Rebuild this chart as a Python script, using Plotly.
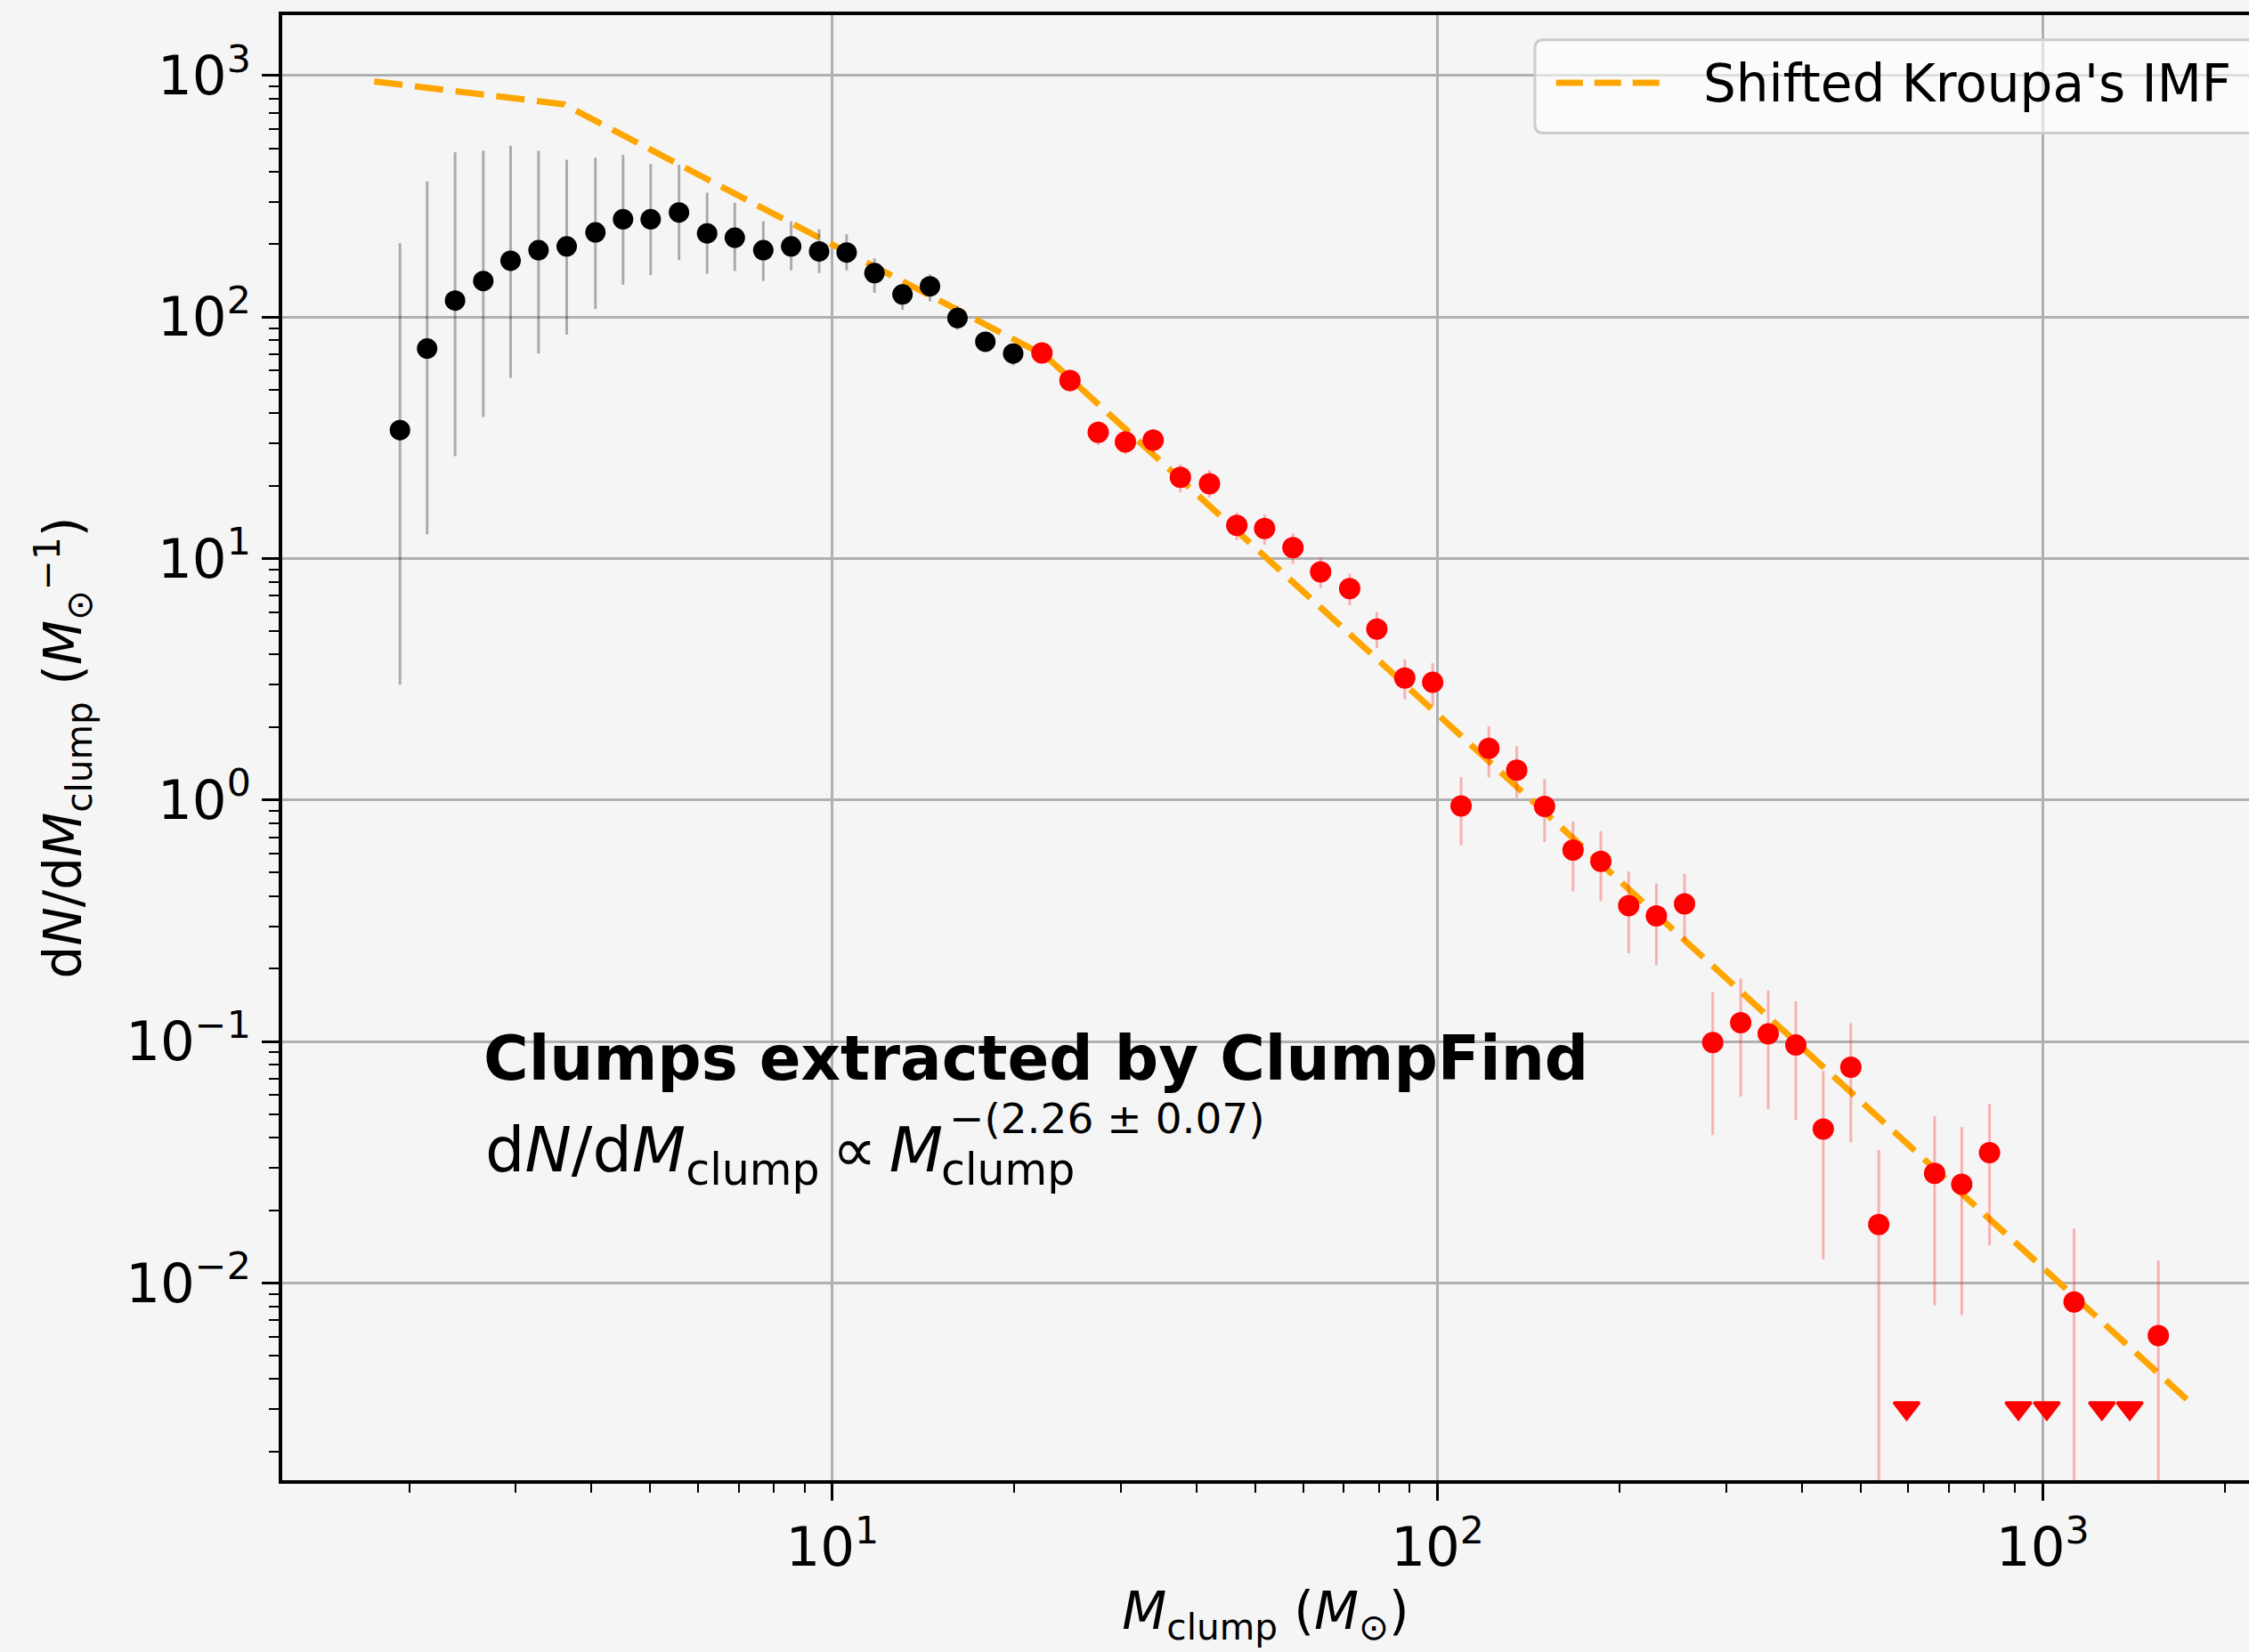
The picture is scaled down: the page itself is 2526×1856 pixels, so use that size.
import plotly.graph_objects as go

# ---------------- data ----------------
BLACK_M = [1.93, 2.14, 2.38, 2.65, 2.94, 3.27, 3.64, 4.06, 4.51, 5.01, 5.58, 6.21,
           6.90, 7.69, 8.55, 9.51, 10.56, 11.74, 13.06, 14.5, 16.1, 17.9, 19.9]
BLACK_DNDM = [34, 74, 117, 141, 171, 189, 196, 224, 254, 254, 271, 222,
              213, 189, 196, 187, 185, 152, 124, 134, 99, 79, 70.6]
BLACK_LO = [3.0, 12.6, 26.5, 38.5, 56, 70.6, 84.6, 108, 136, 149, 172, 151,
            155, 141, 156, 152, 156, 126, 107, 116, 88.5, 72, 63]
BLACK_HI = [202, 364, 481, 488, 512, 488, 448, 457, 469, 430, 427, 327,
            297, 249, 249, 231, 220, 175, 137, 150, 111, 86, 77]

RED_M = [22.2, 24.7, 27.5, 30.5, 33.9, 37.6, 42.0, 46.6, 51.8, 57.7, 64.1, 71.6,
         79.4, 88.3, 98.2, 109.4, 121.6, 135.2, 150.3, 167.5, 186.2, 207, 230, 256,
         285, 317, 352, 391, 434, 482, 536, 663, 735, 817, 1127, 1553]
RED_DNDM = [71, 54.6, 33.3, 30.4, 30.9, 21.7, 20.4, 13.7, 13.3, 11.1, 8.8, 7.5,
            5.1, 3.2, 3.07, 0.945, 1.635, 1.33, 0.94, 0.62, 0.557, 0.365, 0.331, 0.371,
            0.099, 0.1196, 0.1076, 0.0966, 0.0434, 0.0782, 0.01746, 0.0284, 0.0256, 0.0346,
            0.00834, 0.00605]
RED_LO = [64, 49, 29.5, 27, 27.4, 18.8, 17.9, 11.9, 11.4, 9.5, 7.55, 6.4,
          4.25, 2.61, 2.46, 0.65, 1.24, 1.02, 0.67, 0.418, 0.382, 0.232, 0.207, 0.261,
          0.041, 0.059, 0.0525, 0.0473, 0.0125, 0.0382, 0, 0.00807, 0.00736, 0.0143,
          0, 0]
RED_HI = [78, 60.3, 37, 33.8, 34.4, 24.5, 23.2, 15.5, 15.2, 12.7, 10.1, 8.65,
          6.0, 3.82, 3.69, 1.245, 2.02, 1.67, 1.22, 0.815, 0.743, 0.506, 0.451, 0.494,
          0.16, 0.182, 0.1626, 0.1466, 0.0755, 0.119, 0.0355, 0.049, 0.0442, 0.055,
          0.0168, 0.0124]

LIMIT_M = [596, 912, 1016, 1253, 1393]
LIMIT_DNDM = [0.00303, 0.00303, 0.00303, 0.00303, 0.00303]

KROUPA_M = [1.75, 3.6, 22.5, 1730]
KROUPA_DNDM = [945, 760, 69, 0.0033]

X_TICKS = [10, 100, 1000]
X_TICKTEXT = ["10<sup>1</sup>", "10<sup>2</sup>", "10<sup>3</sup>"]
Y_TICKS = [0.01, 0.1, 1, 10, 100, 1000]
Y_TICKTEXT = ["10<sup>\u22122</sup>", "10<sup>\u22121</sup>", "10<sup>0</sup>",
              "10<sup>1</sup>", "10<sup>2</sup>", "10<sup>3</sup>"]
X_MINOR = [m * 10 ** e for e in range(0, 4) for m in range(2, 10)]
Y_MINOR = [m * 10.0 ** e for e in range(-3, 4) for m in range(2, 10)]

FONT = "DejaVu Sans"
BG = "#f5f5f5"


def err_plus(y, hi):
    return [h - v for v, h in zip(y, hi)]


def err_minus(y, lo):
    return [v - l for v, l in zip(y, lo)]


fig = go.Figure()

fig.add_trace(go.Scatter(
    x=KROUPA_M, y=KROUPA_DNDM, mode="lines", name="Shifted Kroupa's IMF",
    line=dict(color="#FFA500", width=7, dash="32px,14px"), showlegend=False,
))

fig.add_trace(go.Scatter(
    x=BLACK_M, y=BLACK_DNDM, mode="markers", name="all clumps",
    marker=dict(color="black", size=23),
    error_y=dict(type="data", symmetric=False,
                 array=err_plus(BLACK_DNDM, BLACK_HI),
                 arrayminus=err_minus(BLACK_DNDM, BLACK_LO),
                 color="rgba(0,0,0,0.3)", thickness=3, width=0),
    showlegend=False,
))

fig.add_trace(go.Scatter(
    x=RED_M, y=RED_DNDM, mode="markers", name="fitted clumps",
    marker=dict(color="#ff0000", size=24),
    error_y=dict(type="data", symmetric=False,
                 array=err_plus(RED_DNDM, RED_HI),
                 arrayminus=err_minus(RED_DNDM, RED_LO),
                 color="rgba(255,0,0,0.28)", thickness=3, width=0),
    showlegend=False,
))

fig.add_trace(go.Scatter(
    x=LIMIT_M, y=LIMIT_DNDM, mode="markers", name="upper limits",
    marker=dict(color="#ff0000", symbol="triangle-down", size=25,
                line=dict(color="#ff0000", width=3)),
    showlegend=False,
))

axis_common = dict(
    type="log", showline=True, linecolor="black", linewidth=4,
    ticks="outside", ticklen=19, tickwidth=3, tickcolor="black",
    tickmode="array", tickfont=dict(family=FONT, size=61, color="black"),
    showgrid=True, gridcolor="#b0b0b0", gridwidth=3, zeroline=False,
)

fig.update_layout(
    width=2526, height=1856, autosize=False,
    margin=dict(l=317, r=0, t=17, b=193),
    paper_bgcolor=BG, plot_bgcolor=BG,
    font=dict(family=FONT, color="black"),
    showlegend=False,
    xaxis=dict(
        axis_common, range=[0.091, 3.341], mirror=True,
        tickvals=X_TICKS, ticktext=X_TICKTEXT,
        minor=dict(tickmode="array", tickvals=X_MINOR, ticks="outside", ticklen=10,
                   tickwidth=2, tickcolor="black", showgrid=False),
        title=dict(text="<i>M</i><sub>clump</sub> (<i>M</i><sub>\u2299</sub>)",
                   font=dict(family=FONT, size=58), standoff=18),
    ),
    yaxis=dict(
        axis_common, range=[-2.817, 3.25], mirror=False,
        tickvals=Y_TICKS, ticktext=Y_TICKTEXT,
        minor=dict(tickmode="array", tickvals=Y_MINOR, ticks="outside", ticklen=11,
                   tickwidth=2, tickcolor="black", showgrid=False),
        title=dict(text="d<i>N</i>/d<i>M</i><sub>clump</sub> (<i>M</i><sub>\u2299</sub><sup>\u22121</sup>)",
                   font=dict(family=FONT, size=58), standoff=32),
    ),
)

# text annotations
fig.add_annotation(
    xref="paper", yref="paper", x=0.1015, y=0.288, xanchor="left", yanchor="middle",
    text="<b>Clumps extracted by ClumpFind</b>", showarrow=False,
    font=dict(family=FONT, size=69, color="black"),
)
fig.add_annotation(
    xref="paper", yref="paper", x=0.1025, y=0.2226, xanchor="left", yanchor="middle",
    text="d<i>N</i>/d<i>M</i><sub>clump</sub>\u2009\u221d\u2009<i>M</i>", showarrow=False,
    font=dict(family=FONT, size=70, color="black"),
)
# subscript and superscript of the right-hand M, stacked as in the reference
fig.add_annotation(
    xref="paper", yref="paper", x=0.3345, y=0.2299, xanchor="left", yanchor="top",
    text="clump", showarrow=False, borderpad=0,
    font=dict(family=FONT, size=49, color="black"),
)
fig.add_annotation(
    xref="paper", yref="paper", x=0.3385, y=0.2299, xanchor="left", yanchor="bottom",
    text="\u2212(2.26 \u00b1 0.07)", showarrow=False, borderpad=0,
    font=dict(family=FONT, size=47, color="black"),
)

# legend (drawn manually so the dashed sample matches the reference)
x0, x1, y0, y1 = 0.6369, 1.006, 0.9195, 0.9832
rx, ry = 0.0045, 0.006
fig.add_shape(
    type="path", xref="paper", yref="paper", layer="above",
    path=(f"M{x1},{y1} L{x0 + rx},{y1} Q{x0},{y1} {x0},{y1 - ry} "
          f"L{x0},{y0 + ry} Q{x0},{y0} {x0 + rx},{y0} L{x1},{y0} Z"),
    line=dict(color="#cccccc", width=3), fillcolor="rgba(255,255,255,0.6)",
)
fig.add_shape(
    type="line", xref="paper", yref="paper", layer="above",
    x0=0.6477, x1=0.7003, y0=0.9539, y1=0.9539,
    line=dict(color="#FFA500", width=7, dash="30px,13px"),
)
fig.add_annotation(
    xref="paper", yref="paper", x=0.7215, y=0.9532, xanchor="left", yanchor="middle",
    text="Shifted Kroupa's IMF", showarrow=False,
    font=dict(family=FONT, size=58, color="black"),
)

fig.write_html("out.html")
